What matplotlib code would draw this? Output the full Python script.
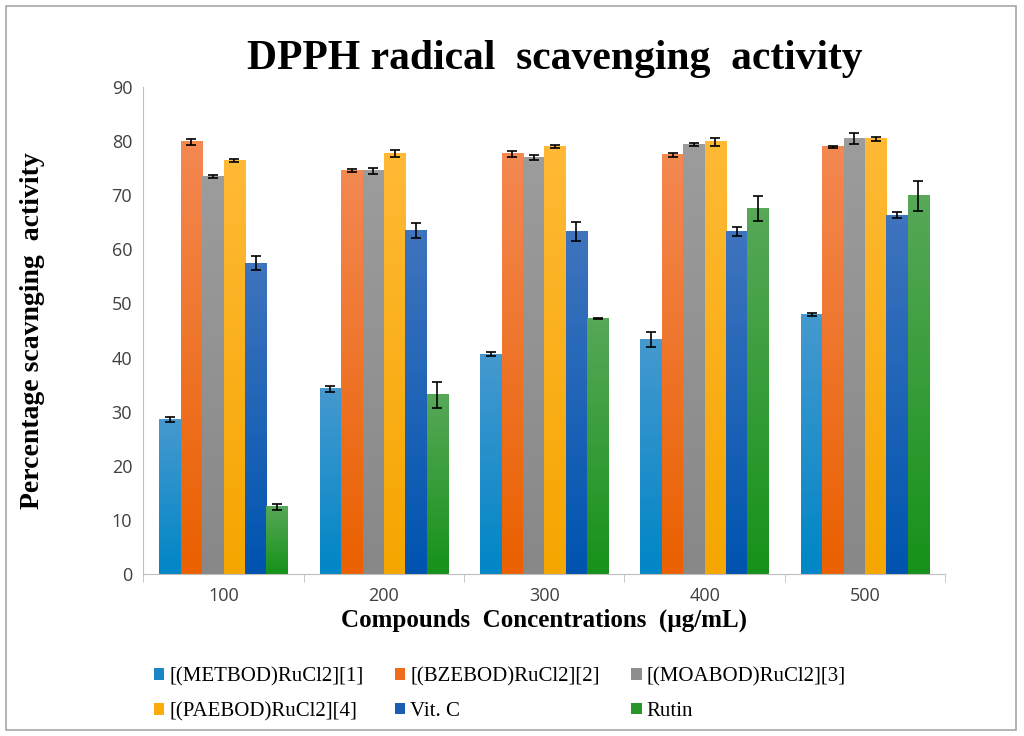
import matplotlib
matplotlib.use("Agg")
import matplotlib.pyplot as plt
from matplotlib.colors import LinearSegmentedColormap
import numpy as np

# concentrations (ug/mL)
concentrations = ["100", "200", "300", "400", "500"]

series_names = ["[(METBOD)RuCl2][1]", "[(BZEBOD)RuCl2][2]", "[(MOABOD)RuCl2][3]",
                "[(PAEBOD)RuCl2][4]", "Vit. C", "Rutin"]

metbod = [28.5, 34.2, 40.6, 43.4, 48.0]
bzebod = [79.8, 74.6, 77.6, 77.4, 78.9]
moabod = [73.5, 74.5, 76.9, 79.3, 80.5]
paebod = [76.4, 77.7, 79.0, 79.8, 80.4]
vitc = [57.4, 63.5, 63.3, 63.3, 66.3]
rutin = [12.4, 33.1, 47.2, 67.5, 69.9]

metbod_err = [0.5, 0.6, 0.4, 1.4, 0.3]
bzebod_err = [0.5, 0.3, 0.5, 0.4, 0.2]
moabod_err = [0.3, 0.6, 0.5, 0.3, 1.0]
paebod_err = [0.3, 0.6, 0.3, 0.8, 0.4]
vitc_err = [1.3, 1.4, 1.7, 0.8, 0.6]
rutin_err = [0.6, 2.4, 0.1, 2.3, 2.8]

values = [metbod, bzebod, moabod, paebod, vitc, rutin]
errors = [metbod_err, bzebod_err, moabod_err, paebod_err, vitc_err, rutin_err]
# (bottom, top) gradient colours, excel style
colors = ["#1a86c6", "#ef6a1c", "#8e8e8e", "#fbab0a", "#1a5db2", "#2a962a"]
grad_bottom = ["#0086c6", "#eb6000", "#888888", "#f5a600", "#0054b0", "#16921a"]
grad_top = ["#4599cf", "#f38851", "#9c9c9c", "#ffb935", "#3e74be", "#57a857"]

fig = plt.figure(figsize=(10.24, 7.36), dpi=100)
ax = fig.add_axes([0.14, 0.22, 0.783, 0.662])

x = np.arange(len(concentrations))
width = 0.1333
grad = np.linspace(0, 1, 64).reshape(-1, 1)
for i in range(len(values)):
    offset = (i - 2.5) * width
    bars = ax.bar(x + offset, values[i], width, color=colors[i], label=series_names[i],
                  yerr=errors[i], capsize=3.5, zorder=1,
                  error_kw=dict(ecolor="black", elinewidth=1.2, capthick=1.2, zorder=4))
    cmap = LinearSegmentedColormap.from_list("g%d" % i, [grad_bottom[i], grad_top[i]])
    for b in bars:
        bx, bw, bh = b.get_x(), b.get_width(), b.get_height()
        ax.imshow(grad, extent=[bx, bx + bw, 0, bh], origin="lower", aspect="auto",
                  cmap=cmap, zorder=2)

ax.set_xlim(-0.5, 4.5)
ax.set_ylim(0, 90)
ax.set_yticks(np.arange(0, 91, 10))
ax.set_xticks(x)
ax.set_xticklabels(concentrations)
ax.set_xticks(np.arange(-0.5, 5, 1), minor=True)
ax.tick_params(axis="x", which="major", length=0, pad=9)
ax.tick_params(axis="x", which="minor", length=6, color="#bfbfbf")
ax.tick_params(axis="y", length=0, pad=8)
ax.tick_params(labelsize=13, labelcolor="#404040")
for lab in ax.get_xticklabels() + ax.get_yticklabels():
    lab.set_family("Open Sans")

for side in ["top", "right"]:
    ax.spines[side].set_visible(False)
ax.spines["left"].set_color("#bfbfbf")
ax.spines["bottom"].set_color("#bfbfbf")

ax.set_ylabel("Percentage scavnging  activity", fontsize=20, fontweight="bold",
              family="Liberation Serif", labelpad=48)
ax.set_xlabel("Compounds  Concentrations  (\u00b5g/mL)", fontsize=18,
              fontweight="bold", family="Liberation Serif", labelpad=3)

fig.text(0.542, 0.92, "DPPH radical  scavenging  activity", ha="center", va="center",
         fontsize=30, fontweight="bold", family="Liberation Serif")

# legend in row-major order (3 columns)
handles, labels = ax.get_legend_handles_labels()
order = [0, 3, 1, 4, 2, 5]
leg = fig.legend([handles[k] for k in order], [labels[k] for k in order],
                 loc="center", bbox_to_anchor=(0.488, 0.057), ncol=3, frameon=False,
                 prop={"family": "Liberation Serif", "size": 15},
                 handlelength=0.5, handleheight=0.5, handletextpad=0.25,
                 columnspacing=1.5, labelspacing=0.75)

# outer frame
fig.patches.append(plt.Rectangle((0.006, 0.008), 0.986, 0.984, transform=fig.transFigure,
                                 fill=False, edgecolor="#a6a6a6", linewidth=1.2))

fig.savefig("out.png", dpi=100)
